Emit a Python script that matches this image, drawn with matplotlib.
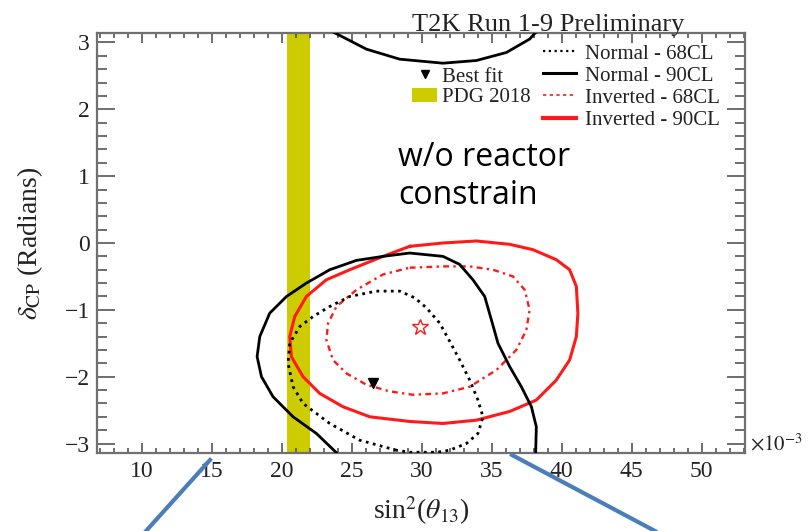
import numpy as np
import matplotlib
matplotlib.use('Agg')
import matplotlib.pyplot as plt
from matplotlib.lines import Line2D
from matplotlib.patches import Patch
from matplotlib.ticker import MultipleLocator

# ---------------- data (sin^2 theta13 in 1e-3, delta_CP in radians) ----------------
normal90_x = [24.02, 22.48, 20.81, 19.38, 18.55, 18.24, 18.43, 19.14, 20.34, 21.76, 23.43,
              25.34, 27.24, 29.14, 31.52, 32.71, 33.66, 34.50, 34.98, 35.45, 36.29, 37.12,
              37.84, 38.19, 38.14]
normal90_y = [-3.16, -2.85, -2.60, -2.30, -2.00, -1.70, -1.40, -1.05, -0.80, -0.60, -0.40,
              -0.26, -0.20, -0.15, -0.20, -0.32, -0.55, -0.80, -1.15, -1.50, -1.85, -2.15,
              -2.45, -2.75, -3.16]
normal90_top_x = [23.64, 26.05, 28.43, 31.52, 33.91, 36.05, 37.71, 38.19]
normal90_top_y = [3.16, 2.90, 2.75, 2.69, 2.73, 2.85, 3.05, 3.16]

normal68_x = [28.19, 25.57, 23.43, 21.52, 20.81, 20.45, 20.57, 21.29, 22.24, 23.43, 24.86,
              26.76, 28.43, 29.50, 30.34, 31.29, 32.00, 32.71, 33.43, 34.02, 34.38, 34.02,
              33.19, 32.00, 31.07, 29.14, 28.19]
normal68_y = [-3.10, -2.95, -2.70, -2.40, -2.15, -1.80, -1.50, -1.25, -1.10, -0.95, -0.80,
              -0.72, -0.72, -0.82, -0.97, -1.20, -1.47, -1.75, -2.05, -2.35, -2.60, -2.85,
              -3.00, -3.10, -3.13, -3.13, -3.10]

inverted90_x = [29.14, 31.52, 33.91, 36.29, 37.95, 39.62, 40.57, 41.05, 41.16, 41.05, 40.57,
                39.62, 38.19, 36.29, 33.91, 31.52, 29.14, 26.29, 24.38, 22.71, 21.52, 20.69,
                20.57, 20.93, 21.76, 23.19, 24.86, 27.24, 29.14]
inverted90_y = [-0.05, 0.00, 0.03, -0.02, -0.10, -0.25, -0.40, -0.65, -1.05, -1.40, -1.75,
                -2.05, -2.35, -2.52, -2.65, -2.70, -2.67, -2.60, -2.45, -2.25, -2.00, -1.70,
                -1.40, -1.10, -0.80, -0.55, -0.40, -0.20, -0.05]

inverted68_x = [29.14, 31.52, 33.43, 35.09, 36.52, 37.36, 37.71, 37.48, 36.76, 35.34, 33.43,
                31.52, 29.36, 27.71, 26.05, 24.62, 23.66, 23.19, 23.31, 23.91, 25.34, 27.24,
                29.14]
inverted68_y = [-0.37, -0.35, -0.35, -0.40, -0.50, -0.70, -1.00, -1.30, -1.60, -1.90, -2.15,
                -2.25, -2.27, -2.22, -2.12, -1.95, -1.75, -1.45, -1.20, -0.95, -0.70, -0.47,
                -0.37]

bestfit_normal = (26.52, -2.10)
bestfit_inverted = (29.86, -1.25)
pdg2018_band = (20.4, 22.0)

x_ticks = [10, 15, 20, 25, 30, 35, 40, 45, 50]
y_ticks = [-3, -2, -1, 0, 1, 2, 3]
legend_labels = ["Normal - 68CL", "Normal - 90CL", "Inverted - 68CL", "Inverted - 90CL"]
legend2_labels = ["Best fit", "PDG 2018"]

# ---------------- style ----------------
plt.rcParams['font.family'] = ['Liberation Serif', 'DejaVu Serif']
plt.rcParams['mathtext.fontset'] = 'stix'

W, H = 810, 531
fig = plt.figure(figsize=(W / 100, H / 100), dpi=100)
ax = fig.add_axes([97 / W, 1 - 453 / H, (745 - 97) / W, (453 - 33) / H])

ax.set_xlim(6.8, 53.1)
ax.set_ylim(-np.pi, np.pi)

yellow = '#cccc00'
ax.axvspan(pdg2018_band[0], pdg2018_band[1], color=yellow, lw=0, zorder=1)

ax.plot(normal90_x, normal90_y, color='black', lw=2.0, zorder=3)
ax.plot(normal90_top_x, normal90_top_y, color='black', lw=2.0, zorder=3)
ax.plot(normal68_x, normal68_y, color='black', lw=2.0, ls=(0, (1, 1.6)), zorder=3)
ax.plot(inverted90_x, inverted90_y, color='#ff1a1a', lw=2.2, zorder=2)
ax.plot(inverted68_x, inverted68_y, color='#ff1a1a', lw=1.7, ls=(0, (2.5, 1.8, 1, 1.8)), zorder=2)

ax.plot(*bestfit_normal, marker='v', color='black', ms=7, ls='none', zorder=4)
ax.plot(*bestfit_inverted, marker='*', mfc='none', mec='#ff1a1a', mew=1.0, ms=12, ls='none', zorder=4)

# axes / ticks
for s in ax.spines.values():
    s.set_color('#707070')
    s.set_linewidth(1.6)
ax.set_xticks(x_ticks)
ax.set_xticklabels([str(v) for v in x_ticks])
ax.set_yticks(y_ticks)
ax.set_yticklabels([str(v).replace('-', '\u2212') for v in y_ticks])
ax.xaxis.set_minor_locator(MultipleLocator(1))
ax.yaxis.set_minor_locator(MultipleLocator(0.2))
ax.tick_params(which='both', direction='in', top=True, right=True, color='#555555', width=1.2,
               labelsize=17, labelcolor='#222222')
ax.tick_params(axis='x', which='major', length=7, pad=6)
ax.tick_params(axis='x', which='minor', length=3.5)
ax.tick_params(axis='y', which='major', length=13, pad=5)
ax.tick_params(axis='y', which='minor', length=7)

ax.set_xlabel(r'sin$^2$($\theta_{13}$)', fontsize=20, color='#222222', labelpad=9)
ax.set_ylabel(r'$\delta_{\rm CP}$ (Radians)', fontsize=20, color='#222222', labelpad=14)

fig.text(750 / W, 1 - 445 / H, r'$\times10^{-3}$', fontsize=15, color='#222222', ha='left', va='center')
fig.text(412 / W, 1 - 31 / H, 'T2K Run 1-9 Preliminary', fontsize=19, color='#222222',
         ha='left', va='baseline')

# legends
handles = [Line2D([], [], color='black', lw=1.6, ls=(0, (1, 1.6))),
           Line2D([], [], color='black', lw=2.2),
           Line2D([], [], color='#ff1a1a', lw=1.2, ls=(0, (2, 2))),
           Line2D([], [], color='#ff1a1a', lw=3.0)]
leg1 = fig.legend(handles, legend_labels, loc='upper left',
                  bbox_to_anchor=(543 / W, 1 - 44 / H), bbox_transform=fig.transFigure,
                  frameon=False, fontsize=15, handlelength=1.6, handletextpad=0.4,
                  labelspacing=0.12, borderpad=0, borderaxespad=0)
for t in leg1.get_texts():
    t.set_color('#222222')

handles2 = [Line2D([], [], marker='v', color='black', ms=6, ls='none'),
            Patch(facecolor=yellow, edgecolor='none')]
leg2 = fig.legend(handles2, legend2_labels, loc='upper left',
                  bbox_to_anchor=(412 / W, 1 - 67 / H), bbox_transform=fig.transFigure,
                  frameon=False, fontsize=15, handlelength=1.2, handleheight=0.7,
                  handletextpad=0.25, labelspacing=0.05, borderpad=0, borderaxespad=0)
for t in leg2.get_texts():
    t.set_color('#222222')

# annotation
fig.text(398 / W, 1 - 176 / H, 'w/o reactor\nconstrain', fontsize=23, family='Open Sans',
         ha='left', va='center', linespacing=1.2, color='black')

# callout lines
fig.add_artist(Line2D([210 / W, 146 / W], [1 - 460 / H, 0], transform=fig.transFigure,
                      color='#4a7ebb', lw=3))
fig.add_artist(Line2D([512 / W, 655 / W], [1 - 455 / H, 0], transform=fig.transFigure,
                      color='#4a7ebb', lw=3))

fig.savefig('out.png', dpi=100)
